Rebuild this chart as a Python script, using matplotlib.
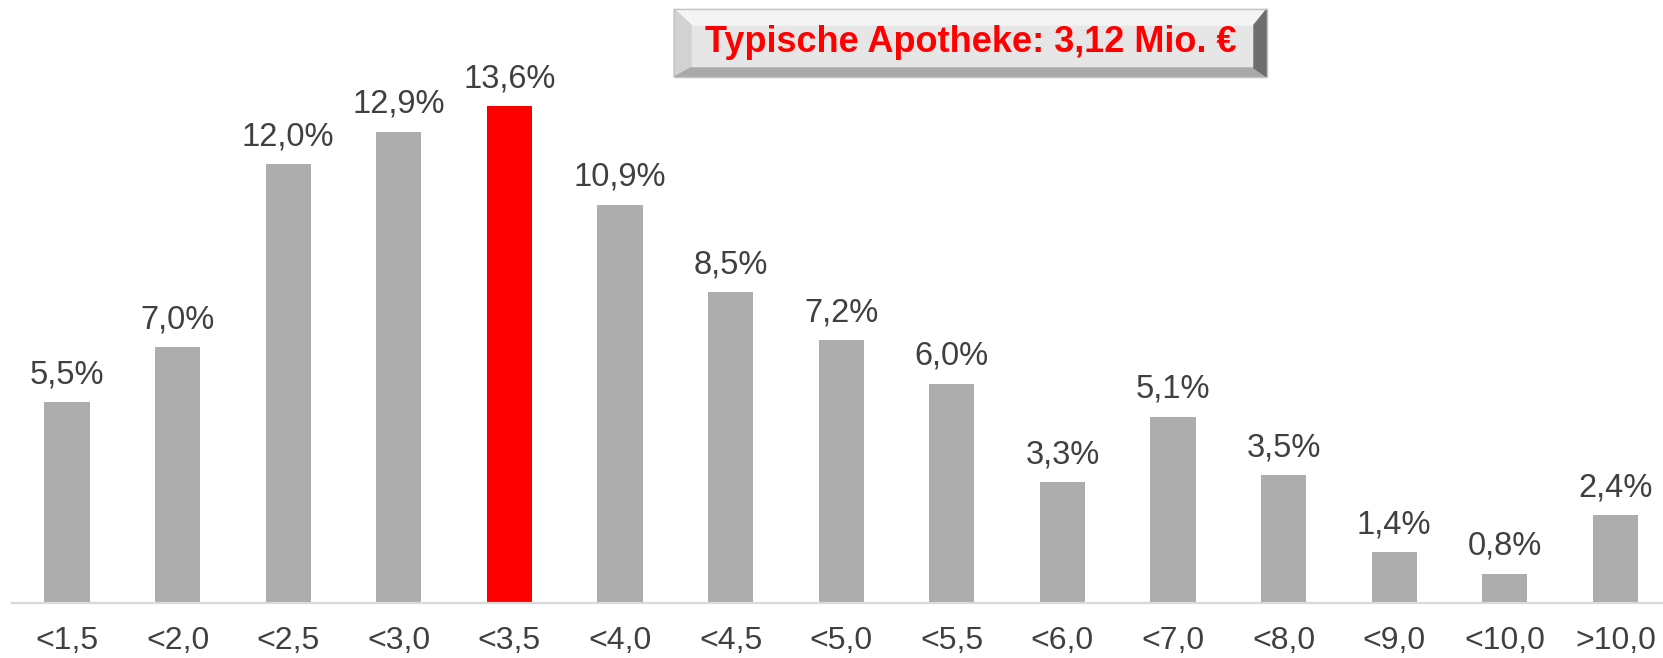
import matplotlib.pyplot as plt
from matplotlib.patches import Polygon, Rectangle

# Umsatzklassen (Mio. EUR) und Anteil der Apotheken (%)
categories = ['<1,5', '<2,0', '<2,5', '<3,0', '<3,5', '<4,0', '<4,5', '<5,0',
              '<5,5', '<6,0', '<7,0', '<8,0', '<9,0', '<10,0', '>10,0']
shares = [5.5, 7.0, 12.0, 12.9, 13.6, 10.9, 8.5, 7.2, 6.0, 3.3, 5.1, 3.5, 1.4, 0.8, 2.4]
highlight = '<3,5'
title_text = 'Typische Apotheke: 3,12 Mio. €'

plt.rcParams['font.family'] = ['Liberation Sans', 'DejaVu Sans']

W, H = 1663, 658
fig = plt.figure(figsize=(W / 100, H / 100), dpi=100)
ax = fig.add_axes([11.7 / W, 55 / H, 1659 / W, 584.7 / H])

colors = ['#ff0000' if c == highlight else '#adadad' for c in categories]
x = range(len(categories))
bars = ax.bar(x, shares, width=0.41, color=colors)

for b, v in zip(bars, shares):
    ax.annotate(f'{v:.1f}%'.replace('.', ','), (b.get_x() + b.get_width() / 2, v),
                xytext=(0, 8.5), textcoords='offset points', ha='center', va='bottom',
                fontsize=23.5, color='#404040')

ax.set_xlim(-0.5, len(categories) - 0.5)
ax.set_ylim(0, 16)
ax.set_xticks(list(x))
ax.set_xticklabels(categories, fontsize=23, color='#404040')
ax.tick_params(axis='x', length=0, pad=16.5)
ax.set_yticks([])
for s in ['top', 'left', 'right']:
    ax.spines[s].set_visible(False)
ax.spines['bottom'].set_color('#d9d9d9')
ax.spines['bottom'].set_linewidth(1.6)

# Titelbox mit Relief-Rahmen (Pixelkoordinaten)
ov = fig.add_axes([0, 0, 1, 1], zorder=5)
ov.set_xlim(0, W)
ov.set_ylim(H, 0)
ov.axis('off')
x0, x1, y0, y1 = 674, 1267, 9, 77
l, r, t, bt = 17, 13, 16, 9
ov.add_patch(Rectangle((x0, y0), x1 - x0, y1 - y0, color='#e6e6e6', zorder=1))
ov.add_patch(Polygon([(x0, y0), (x1, y0), (x1 - r, y0 + t), (x0 + l, y0 + t)],
                     closed=True, color='#f4f4f4', zorder=2))
ov.add_patch(Polygon([(x0, y0), (x0 + l, y0 + t), (x0 + l, y1 - bt), (x0, y1)],
                     closed=True, color='#d2d2d2', zorder=2))
ov.add_patch(Polygon([(x0, y1), (x0 + l, y1 - bt), (x1 - r, y1 - bt), (x1, y1)],
                     closed=True, color='#a9a9a9', zorder=2))
ov.add_patch(Polygon([(x1, y0), (x1 - r, y0 + t), (x1 - r, y1 - bt), (x1, y1)],
                     closed=True, color='#6e6e6e', zorder=2))
ov.add_patch(Rectangle((x0, y0), x1 - x0, y1 - y0, fill=False, ec='#c4c4c4', lw=1, zorder=3))
ov.text((x0 + x1) / 2, 43, title_text, ha='center', va='center', fontsize=26,
        fontweight='bold', color='#ff0000', zorder=4)

fig.savefig('out.png', dpi=100)
